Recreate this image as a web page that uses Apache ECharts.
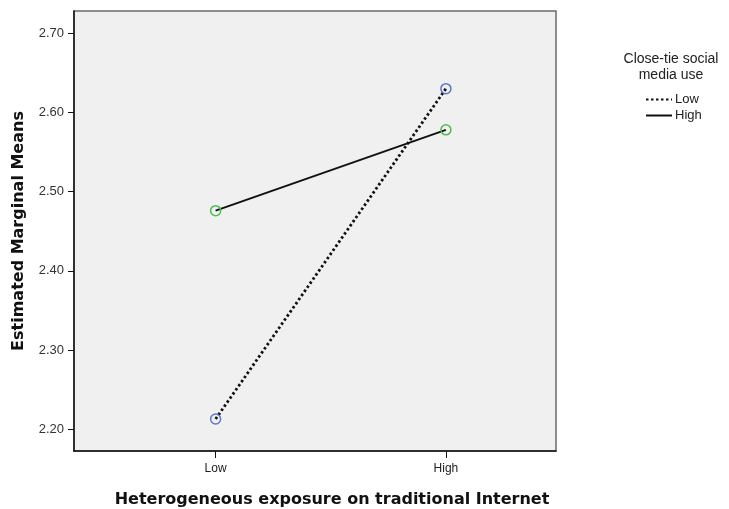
<!DOCTYPE html>
<html style="height: 100%">
<head>
    <meta charset="utf-8">
</head>
<body style="height: 100%; margin: 0; background: #fff">
    <div id="container" style="width: 729px; height: 509px"></div>
    <script src="https://cdn.jsdelivr.net/npm/echarts@6/dist/echarts.min.js"></script>
    <script type="text/javascript">
        var categories = ['Low', 'High'];
        var catPos = [0, 1];
        var lowUse = [2.213, 2.630];
        var highUse = [2.476, 2.578];
        var yTicks = [2.2, 2.3, 2.4, 2.5, 2.6, 2.7];

        var pair = function (vals) {
            var res = [];
            for (var i = 0; i < vals.length; i++) {
                res.push([catPos[i], vals[i]]);
            }
            return res;
        };

        var myChart = echarts.init(document.getElementById('container'));
        var font = 'Liberation Sans, Arial, sans-serif';
        var boldFont = 'DejaVu Sans, Verdana, sans-serif';

        var option = {
            animation: false,
            backgroundColor: '#fff',
            title: {
                text: 'Close-tie social\nmedia use',
                left: 666,
                top: 46,
                textAlign: 'center',
                textStyle: {
                    fontFamily: font,
                    fontSize: 14,
                    fontWeight: 'normal',
                    color: '#222',
                    lineHeight: 16
                }
            },
            legend: {
                orient: 'vertical',
                left: 640,
                top: 88,
                itemWidth: 26,
                itemHeight: 8,
                itemGap: 3,
                itemStyle: { opacity: 0 },
                textStyle: { fontFamily: font, fontSize: 13, color: '#222', padding: [0, 0, 0, -2] },
                data: ['Low', 'High']
            },
            grid: {
                left: 74,
                right: 173,
                top: 11,
                bottom: 58,
                outerBoundsMode: 'none',
                containLabel: false,
                show: true,
                backgroundColor: '#f0f0f0',
                borderColor: '#6a6a6a',
                borderWidth: 1.5
            },
            xAxis: {
                type: 'value',
                min: -0.615,
                max: 1.478,
                splitLine: { show: false },
                axisLine: { onZero: false, lineStyle: { color: '#111', width: 1.5 } },
                axisTick: { customValues: catPos, length: 7, lineStyle: { color: '#111' } },
                axisLabel: {
                    customValues: catPos,
                    margin: 12,
                    fontFamily: font,
                    fontSize: 12,
                    color: '#222',
                    formatter: function (v) { return categories[Math.round(v)]; }
                },
                name: 'Heterogeneous exposure on traditional Internet',
                nameLocation: 'middle',
                nameGap: 41,
                nameTextStyle: {
                    fontFamily: boldFont,
                    fontWeight: 'bold',
                    fontSize: 16,
                    color: '#111',
                    padding: [0, 0, 0, 34]
                }
            },
            yAxis: {
                type: 'value',
                min: 2.1726,
                max: 2.728,
                splitLine: { show: false },
                axisLine: { show: true, onZero: false, lineStyle: { color: '#111', width: 1.5 } },
                axisTick: { show: true, customValues: yTicks, length: 6, lineStyle: { color: '#111' } },
                axisLabel: {
                    customValues: yTicks,
                    margin: 10,
                    fontFamily: font,
                    fontSize: 13,
                    color: '#333',
                    formatter: function (v) { return v.toFixed(2); }
                },
                name: 'Estimated Marginal Means',
                nameLocation: 'middle',
                nameGap: 47,
                nameTextStyle: {
                    fontFamily: boldFont,
                    fontWeight: 'bold',
                    fontSize: 16,
                    color: '#111'
                }
            },
            series: [{
                name: 'Low',
                type: 'line',
                data: pair(lowUse),
                symbol: 'circle',
                symbolSize: 10,
                itemStyle: { color: 'transparent', borderColor: '#5a78c8', borderWidth: 1.5 },
                lineStyle: { color: '#111', width: 2.8, type: [2.5, 2.5] },
                z: 3
            }, {
                name: 'High',
                type: 'line',
                data: pair(highUse),
                symbol: 'circle',
                symbolSize: 10,
                itemStyle: { color: 'transparent', borderColor: '#4cbb52', borderWidth: 1.5 },
                lineStyle: { color: '#111', width: 2 },
                z: 3
            }]
        };

        myChart.setOption(option);
    </script>
</body>
</html>
